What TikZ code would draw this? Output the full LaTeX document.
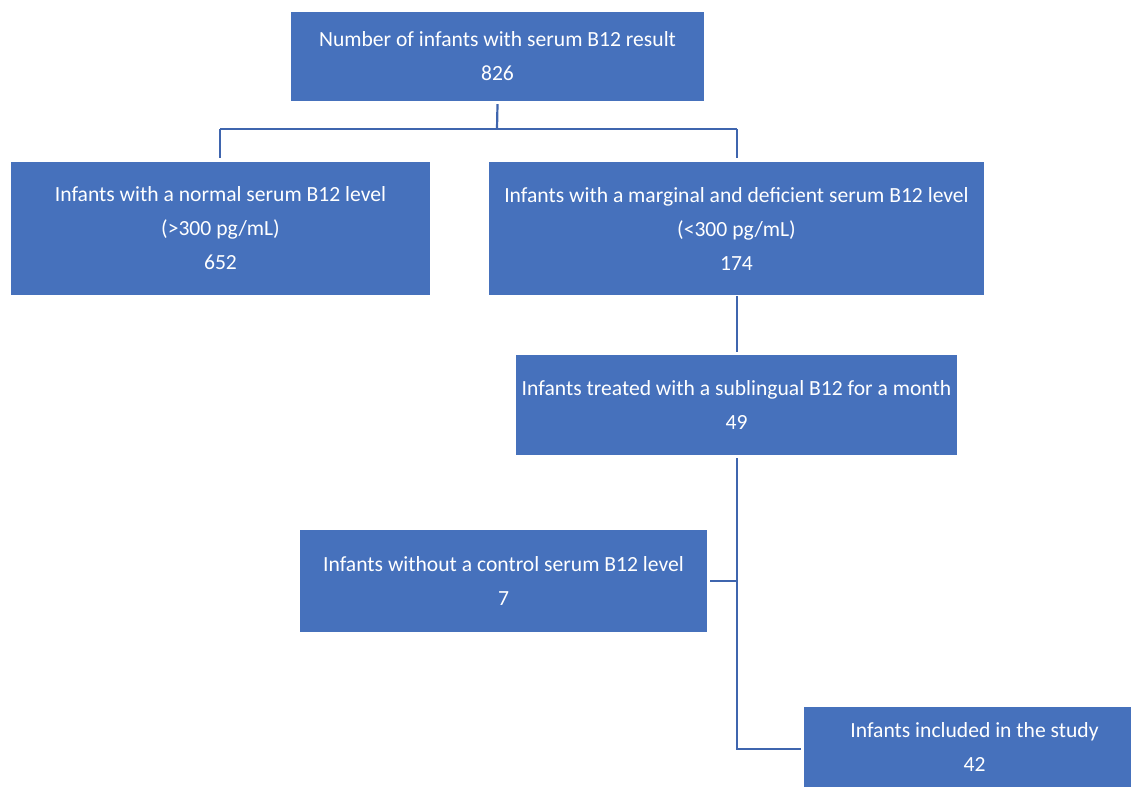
\documentclass[tikz,border=0pt]{standalone}
\usepackage{fontspec}
\setmainfont{Carlito}
\definecolor{boxblue}{HTML}{4671BC}
\definecolor{lineblue}{HTML}{3F65AE}
\begin{document}
\begin{tikzpicture}[x=1pt,y=-1pt,
  box/.style={fill=boxblue, draw=none, text=white, align=center, inner sep=0pt,
    font=\fontsize{21.6}{34}\selectfont},
  link/.style={draw=lineblue, line width=2.2pt}]
\useasboundingbox (0,0) rectangle (1131,787);
\node[box, minimum width=413pt, minimum height=89pt] (top) at (497.5,56.5) {Number of infants with serum B12 result\\826};
\node[box, minimum width=419pt, minimum height=133pt] (normal) at (220.5,228.5) {Infants with a normal serum B12 level\\(>300 pg/mL)\\652};
\node[box, minimum width=495pt, minimum height=133pt] (low) at (736.5,228.5) {Infants with a marginal and deficient serum B12 level\\(<300 pg/mL)\\174};
\node[box, minimum width=441pt, minimum height=100pt] (treated) at (736.5,405) {Infants treated with a sublingual B12 for a month\\49};
\node[box, minimum width=407pt, minimum height=102pt] (without) at (503.5,581) {Infants without a control serum B12 level\\7};
\node[box, minimum width=327pt, minimum height=80pt] (included) at (967.5,747) {\hspace*{14pt}Infants included in the study\\\hspace*{14pt}42};
\coordinate (split) at (497,129);
\coordinate (jl) at (220,129);
\coordinate (jr) at (737,129);
\coordinate (branch) at (737,581);
\coordinate (corner) at (737,749);
\draw[link] ([yshift=-3pt]top.south) -- (split);
\draw[link] (jl) -- (jr);
\draw[link] (jl) -- ([yshift=4pt]normal.north -| jl);
\draw[link] (jr) -- ([yshift=4pt]low.north -| jr);
\draw[link] ([yshift=-1pt]low.south -| jr) -- ([yshift=3pt]treated.north -| jr);
\draw[link] ([yshift=-3pt]treated.south -| jr) -- (corner) -- ([xshift=-3pt]included.west |- corner);
\draw[link] (branch) -- ([xshift=3pt]without.east);
\end{tikzpicture}
\end{document}
